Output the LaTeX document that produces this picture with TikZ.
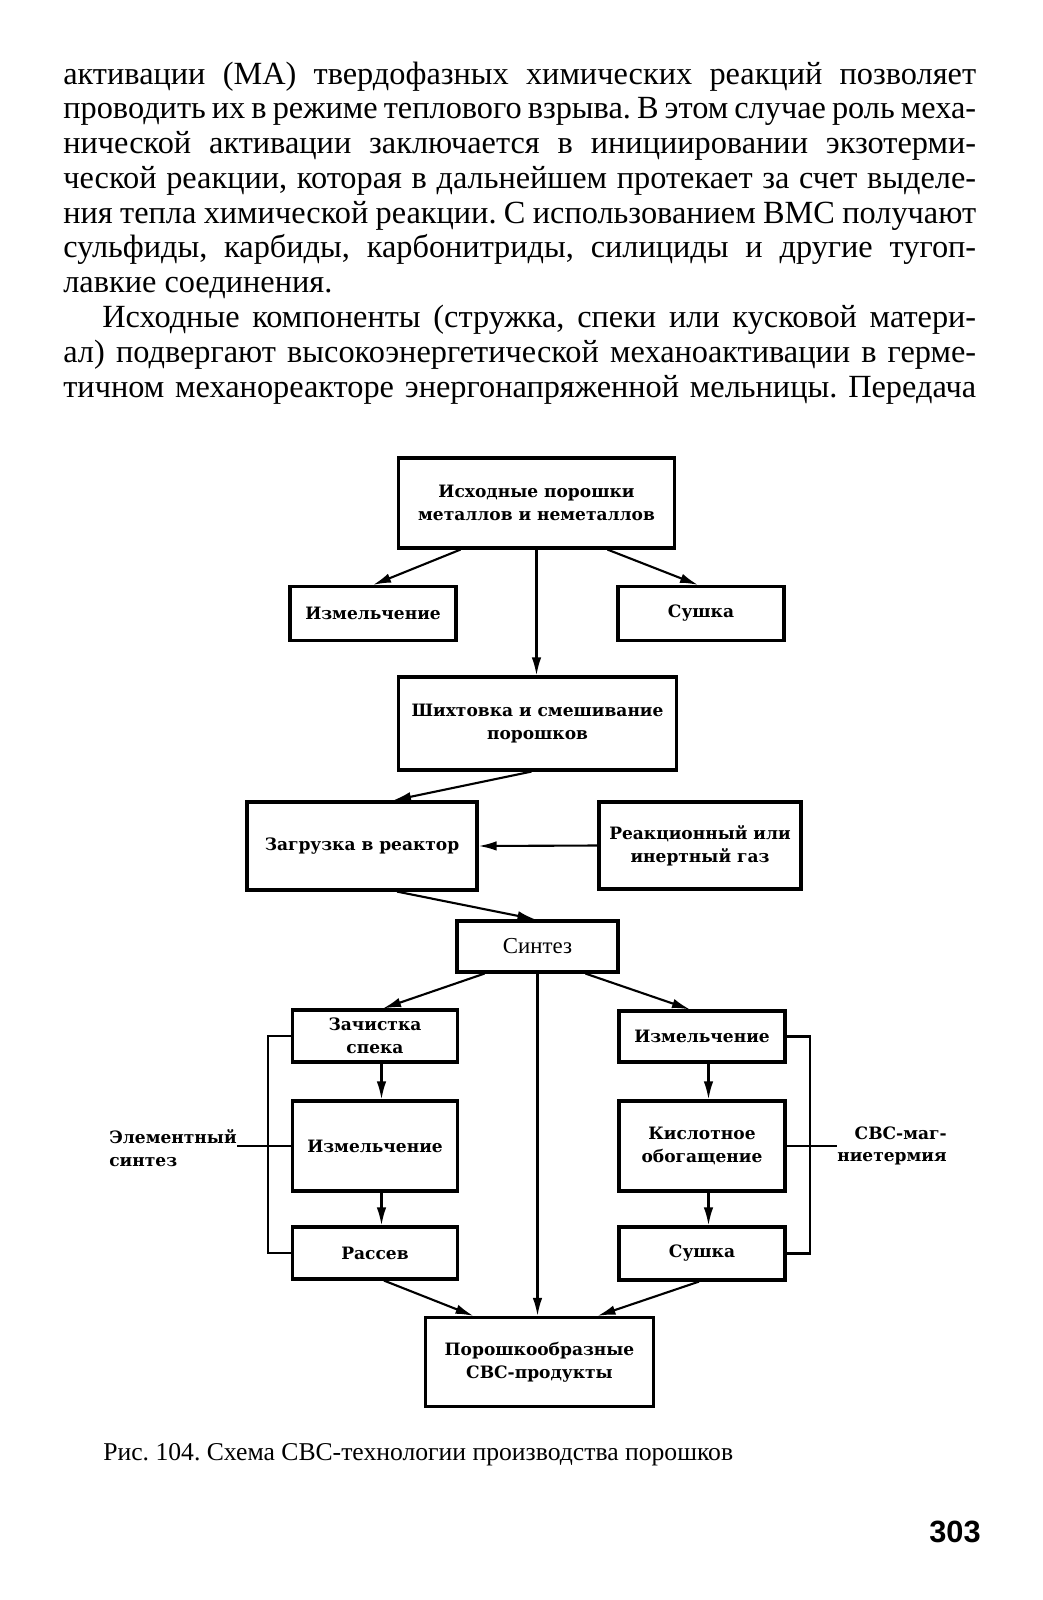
\documentclass[tikz,border=0pt]{standalone}
\usepackage{fontspec}
\setmainfont{Liberation Serif}
\newfontfamily\schemefont{DejaVu Serif}
\newfontfamily\foliofont{Liberation Sans}
\usetikzlibrary{arrows.meta}

\tikzset{
  blk/.style={draw, line width=1.8pt, inner sep=1pt, align=center,
    font=\schemefont\bfseries\fontsize{9.7}{13}\selectfont},
  lbl/.style={inner sep=0pt, font=\schemefont\bfseries\fontsize{9.7}{13}\selectfont},
  arr/.style={line width=1.2pt, -{Latex[length=3.6mm,width=1.9mm]}},
  brk/.style={line width=1.6pt},
}

\begin{document}
\begin{tikzpicture}[x=0.02cm, y=-0.02cm]
  % --- page ---
  \fill[white] (0,0) rectangle (1042,1600);
  \useasboundingbox (0,0) rectangle (1042,1600);

  % --- running text above the figure ---
  \node[anchor=base west, inner sep=0pt, text width=18.26cm, align=justify,
        font=\frenchspacing\fontsize{18.4}{19.8}\selectfont] (para) at (63,84) {%
    активации (МА) твердофазных химических реакций позволяет\linebreak
    проводить их в режиме теплового взрыва. В этом случае роль меха-\linebreak
    нической активации заключается в инициировании экзотерми-\linebreak
    ческой реакции, которая в дальнейшем протекает за счет выделе-\linebreak
    ния тепла химической реакции. С использованием ВМС получают\linebreak
    сульфиды, карбиды, карбонитриды, силициды и другие тугоп-\linebreak
    лавкие соединения.\par
    {\parfillskip=0pt\hspace*{0.78cm}Исходные компоненты (стружка, спеки или кусковой матери-\linebreak
    ал) подвергают высокоэнергетической механоактивации в герме-\linebreak
    тичном механореакторе энергонапряженной мельницы. Передача\par}};

  % --- upper part of the scheme ---
  \node[blk, minimum width=5.52cm, minimum height=1.8cm] (src) at (536.5,503) {Исходные порошки\\металлов и неметаллов};
  \node[blk, minimum width=3.32cm, minimum height=1.08cm] (mill1) at (373,613.5) {Измельчение};
  \node[blk, minimum width=3.32cm, minimum height=1.08cm] (dry1) at (701,613.5) {Сушка};
  \node[blk, minimum width=5.56cm, minimum height=1.86cm] (mix) at (537.5,723.5) {Шихтовка и смешивание\\порошков};
  \node[blk, minimum width=4.6cm, minimum height=1.76cm] (load) at (362,846) {Загрузка в реактор};
  \node[blk, minimum width=4.04cm, minimum height=1.74cm] (gas) at (700,845.5) {Реакционный или\\инертный газ};
  \node[blk, font=\fontsize{13}{15}\selectfont, minimum width=3.22cm, minimum height=1.02cm] (synth) at (537.5,946.5) {Синтез};

  % --- two branches after synthesis ---
  \node[blk, minimum width=3.3cm, minimum height=1.04cm] (clean) at (375,1036) {Зачистка\\спека};
  \node[blk, minimum width=3.3cm, minimum height=1.8cm] (mill2) at (375,1146) {Измельчение};
  \node[blk, minimum width=3.3cm, minimum height=1.04cm] (sieve) at (375,1253) {Рассев};
  \node[blk, minimum width=3.32cm, minimum height=1.02cm] (mill3) at (702,1036.5) {Измельчение};
  \node[blk, minimum width=3.32cm, minimum height=1.8cm] (acid) at (702,1146) {Кислотное\\обогащение};
  \node[blk, minimum width=3.32cm, minimum height=1.06cm] (dry2) at (702,1253.5) {Сушка};
  \node[blk, minimum width=4.56cm, minimum height=1.78cm] (prod) at (539.5,1362) {Порошкообразные\\СВС-продукты};

  \node[lbl, anchor=north east, align=left] (elem) at (237,1129) {Элементный\\синтез};
  \node[lbl, anchor=north east, align=right] (magn) at (947,1126) {СВС-маг-\\ниетермия};

  % --- arrows ---
  \draw[arr] ([xshift=-1.52cm]src.south) -- (mill1.north);
  \draw[arr] ([xshift=1.42cm]src.south) -- ([xshift=-0.06cm]dry1.north);
  \draw[arr] (src.south) -- (src.south |- mix.north);
  \draw[arr] ([xshift=-0.12cm]mix.south) -- ([xshift=0.62cm]load.north);
  \draw[arr] (gas.west) -- (load.east);
  \draw[arr] ([xshift=0.7cm]load.south) -- ([xshift=-0.04cm]synth.north);
  \draw[arr] ([xshift=-1.06cm]synth.south) -- ([xshift=0.16cm]clean.north);
  \draw[arr] ([xshift=0.96cm]synth.south) -- ([xshift=-0.24cm]mill3.north);
  \draw[arr] (synth.south) -- (synth.south |- prod.north);
  \foreach \a/\b in {clean/mill2, mill2/sieve, mill3/acid, acid/dry2}
    \draw[arr] ([xshift=0.13cm]\a.south) -- ([xshift=0.13cm]\b.north);
  \draw[arr] ([xshift=0.18cm]sieve.south) -- ([xshift=-1.32cm]prod.north);
  \draw[arr] ([xshift=-0.06cm]dry2.south) -- ([xshift=1.16cm]prod.north);

  % --- brackets with their labels ---
  \coordinate (lbar) at (268,1146);
  \coordinate (rbar) at (810,1146);
  \draw[brk] (clean.west) -| (lbar) |- (sieve.west);
  \draw[brk] (mill3.east) -| (rbar) |- (dry2.east);
  \draw[brk] (mill2.west) -- (mill2.west -| elem.east);
  \draw[brk] (acid.east) -- (acid.east -| magn.west);

  % --- caption and page number ---
  \node[anchor=base west, inner sep=0pt, font=\frenchspacing\fontsize{14.6}{18}\selectfont] (cap) at (103,1460) {Рис. 104. Схема СВС-технологии производства порошков};
  \node[anchor=base east, inner sep=0pt, font=\foliofont\bfseries\fontsize{17.5}{20}\selectfont] (folio) at (981,1542) {303};
\end{tikzpicture}
\end{document}
